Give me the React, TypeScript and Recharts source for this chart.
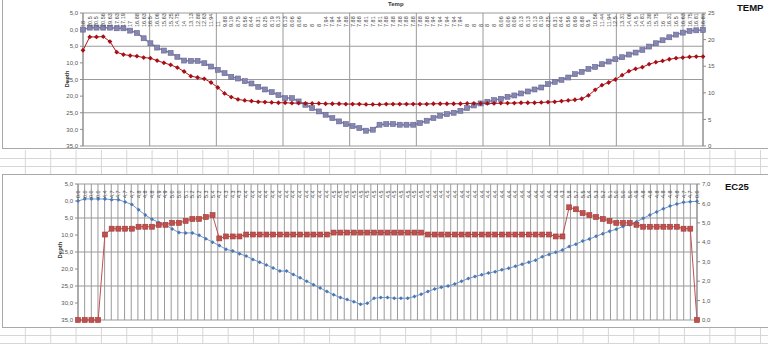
import React from 'react';
import { ComposedChart, Line, XAxis, YAxis, CartesianGrid } from 'recharts';

// depth (m) per sample, shared by both charts
const DEPTH = [
  0, -0.6, -0.6, -0.6, -0.6, -0.4, -0.4, 0.3, 1.0, 2.6,
  4.1, 5.4, 6.3, 7.0, 8.2, 9.3, 9.4, 9.4, 10.1, 11.1,
  12.1, 13.1, 14.2, 14.7, 15.5, 16.2, 17.2, 18.0, 18.8, 19.7,
  20.6, 20.6, 21.6, 22.6, 23.6, 24.6, 25.6, 26.6, 27.6, 28.4,
  29.0, 29.6, 30.4, 30.1, 28.6, 28.4, 28.4, 28.6, 28.6, 28.6,
  28.1, 27.4, 26.6, 25.9, 25.4, 25.0, 24.4, 23.6, 22.8, 22.2,
  21.7, 21.2, 20.8, 20.2, 19.8, 19.2, 18.6, 18.0, 17.4, 16.4,
  15.7, 15.1, 14.4, 13.4, 12.7, 11.8, 11.2, 10.4, 9.6, 8.9,
  8.3, 7.5, 6.9, 6.1, 5.1, 4.1, 3.2, 2.3, 1.5, 0.9,
  0.4, 0.2, 0.1,
];

const TEMP = [
  18, 20.5, 20.5, 20.56, 19.63, 17.63, 17.19, 17, 16.88, 16.63,
  16.5, 16.06, 15.63, 15.25, 14.75, 14, 13.13, 12.88, 12.63, 11.94,
  11, 9.88, 9.19, 8.75, 8.56, 8.44, 8.31, 8.25, 8.19, 8.13,
  8.13, 8.06, 8.06, 8, 8, 8, 7.94, 7.94, 7.94, 7.88,
  7.88, 7.88, 7.81, 7.81, 7.81, 7.88, 7.88, 7.88, 7.88, 7.88,
  7.88, 7.88, 7.94, 7.94, 7.94, 7.94, 7.94, 8, 8, 8,
  8, 8, 8.06, 8.06, 8.06, 8.13, 8.13, 8.13, 8.19, 8.25,
  8.31, 8.44, 8.56, 8.69, 8.88, 9.5, 10.56, 11.44, 11.94, 12.5,
  13.31, 14.06, 14.5, 14.81, 15.38, 15.75, 16, 16.31, 16.5, 16.63,
  16.75, 16.81, 16.81,
];

const EC = [
  0, 0, 0, 0, 4.4, 4.7, 4.7, 4.7, 4.7, 4.8,
  4.8, 4.8, 4.9, 4.9, 5.0, 5.0, 5.1, 5.2, 5.2, 5.3,
  5.4, 4.2, 4.3, 4.3, 4.3, 4.4, 4.4, 4.4, 4.4, 4.4,
  4.4, 4.4, 4.4, 4.4, 4.4, 4.4, 4.4, 4.4, 4.5, 4.5,
  4.5, 4.5, 4.5, 4.5, 4.5, 4.5, 4.5, 4.5, 4.5, 4.5,
  4.5, 4.5, 4.4, 4.4, 4.4, 4.4, 4.4, 4.4, 4.4, 4.4,
  4.4, 4.4, 4.4, 4.4, 4.4, 4.4, 4.4, 4.4, 4.4, 4.4,
  4.4, 4.3, 4.3, 5.8, 5.7, 5.5, 5.4, 5.3, 5.2, 5.1,
  5.0, 5.0, 5.0, 4.9, 4.8, 4.8, 4.8, 4.8, 4.8, 4.8,
  4.7, 4.7, 0.0,
];

const DEPTH_TICKS = [-5, 0, 5, 10, 15, 20, 25, 30, 35];
const TEMP_TICKS = [0, 5, 10, 15, 20, 25];
const EC_TICKS = [0, 1, 2, 3, 4, 5, 6, 7];

const TEMP_LABELS = TEMP.map((v) => String(v));
const EC_LABELS = EC.map((v) => v.toFixed(1));

const tempData = DEPTH.map((d, i) => ({ i, depth: d, temp: TEMP[i] }));
const ecData = DEPTH.map((d, i) => ({ i, depth: d, ec: EC[i] }));

const FONT = '"Liberation Sans", Arial, sans-serif';
const AXIS_COLOR = '#8c8c8c';
const TICK = { fontSize: 6, fill: '#555', fontFamily: FONT };

const fmtDepth = (v: number) => Math.abs(v).toFixed(1).replace('.', ',');
const fmtEc = (v: number) => v.toFixed(1).replace('.', ',');

// vertical grid at category boundaries
const boundaries = (step: number) => (props: any) => {
  const off = props.offset || {};
  const left = off.left ?? 0;
  const w = off.width ?? 0;
  const n = DEPTH.length;
  const out: number[] = [];
  for (let k = 0; k < n; k += step) out.push(left + (k * w) / n);
  out.push(left + w);
  return out;
};

const catTick = (labels: string[], baseY: number) => (p: any) => (
  <text
    transform={`translate(${p.x + 2},${baseY}) rotate(-90)`}
    fontSize={5.5}
    fill="#444"
    fontFamily={FONT}
    textAnchor="start"
  >
    {labels[Number(p.payload.value)]}
  </text>
);

const squareDot = (size: number, fill: string, stroke: string) => (p: any) =>
  p.cx == null ? null : (
    <rect
      key={p.index}
      x={p.cx - size / 2}
      y={p.cy - size / 2}
      width={size}
      height={size}
      fill={fill}
      stroke={stroke}
      strokeWidth={0.6}
    />
  );

const diamondDot = (r: number, fill: string) => (p: any) =>
  p.cx == null ? null : (
    <path
      key={p.index}
      d={`M${p.cx},${p.cy - r}L${p.cx + r},${p.cy}L${p.cx},${p.cy + r}L${p.cx - r},${p.cy}Z`}
      fill={fill}
    />
  );

const SheetGrid = () => {
  const cols = Array.from({ length: 31 }, (_, k) => 25.35 * (k + 1));
  const bands = [
    [150, 174],
    [327, 344],
  ];
  const rows = [158.5, 166.5, 335.5, 343.5];
  return (
    <svg width={768} height={344} style={{ position: 'absolute', left: 0, top: 0 }}>
      {bands.map(([a, b], j) =>
        cols.map((x) => (
          <line key={`${j}-${x}`} x1={x} x2={x} y1={a} y2={b} stroke="#d6d6d6" strokeWidth={1} />
        ))
      )}
      {rows.map((y) => (
        <line key={y} x1={0} x2={768} y1={y} y2={y} stroke="#d6d6d6" strokeWidth={1} />
      ))}
    </svg>
  );
};

const frame = (top: number, height: number): React.CSSProperties => ({
  position: 'absolute',
  left: 2,
  top,
  width: 780,
  height,
  border: '1.5px solid #a8a8a8',
  background: '#fff',
  boxSizing: 'border-box',
});

const sideLabel = (left: number, top: number): React.CSSProperties => ({
  position: 'absolute',
  left,
  top,
  fontSize: 6,
  fontWeight: 'bold',
  fontFamily: FONT,
  color: '#333',
  transform: 'rotate(-90deg)',
  transformOrigin: 'center',
});

export default function App() {
  return (
    <div
      style={{
        position: 'absolute',
        left: 0,
        top: 0,
        width: 768,
        height: 344,
        overflow: 'hidden',
        background: '#fff',
        fontFamily: FONT,
      }}
    >
      <SheetGrid />
      <div style={frame(-2, 151)} />
      <div style={frame(174, 154)} />

      <div style={{ position: 'absolute', top: 0 }}>
        <ComposedChart width={768} height={150} data={tempData} margin={{ top: 12, right: 35, bottom: 4, left: 53 }}>
          <CartesianGrid yAxisId="d" stroke="#9a9a9a" verticalCoordinatesGenerator={boundaries(10)} />
          <XAxis
            dataKey="i"
            type="category"
            orientation="top"
            height={1}
            interval={0}
            axisLine={false}
            tickLine={false}
            tick={catTick(TEMP_LABELS, 27)}
          />
          <YAxis
            yAxisId="d"
            orientation="left"
            reversed
            domain={[-5, 35]}
            ticks={DEPTH_TICKS}
            width={30}
            tick={TICK}
            tickSize={3}
            tickFormatter={fmtDepth}
            axisLine={{ stroke: AXIS_COLOR }}
            tickLine={{ stroke: AXIS_COLOR }}
          />
          <YAxis
            yAxisId="t"
            orientation="right"
            domain={[0, 25]}
            ticks={TEMP_TICKS}
            width={30}
            tick={TICK}
            tickSize={3}
            axisLine={{ stroke: AXIS_COLOR }}
            tickLine={{ stroke: AXIS_COLOR }}
          />
          <Line
            yAxisId="d"
            dataKey="depth"
            stroke="#7b7ba8"
            strokeWidth={1.5}
            dot={squareDot(5, '#8686b3', '#66668f')}
            isAnimationActive={false}
          />
          <Line
            yAxisId="t"
            dataKey="temp"
            stroke="#b3141b"
            strokeWidth={1}
            dot={diamondDot(2.4, '#a50f15')}
            isAnimationActive={false}
          />
        </ComposedChart>
      </div>

      <div style={{ position: 'absolute', top: 174 }}>
        <ComposedChart width={768} height={150} data={ecData} margin={{ top: 9, right: 41, bottom: 4, left: 48 }}>
          <CartesianGrid yAxisId="d" stroke="#9a9a9a" verticalCoordinatesGenerator={boundaries(1)} />
          <XAxis
            dataKey="i"
            type="category"
            orientation="top"
            height={1}
            interval={0}
            axisLine={false}
            tickLine={false}
            tick={catTick(EC_LABELS, 24)}
          />
          <YAxis
            yAxisId="d"
            orientation="left"
            reversed
            domain={[-5, 35]}
            ticks={DEPTH_TICKS}
            width={30}
            tick={TICK}
            tickSize={3}
            tickFormatter={fmtDepth}
            axisLine={{ stroke: AXIS_COLOR }}
            tickLine={{ stroke: AXIS_COLOR }}
          />
          <YAxis
            yAxisId="e"
            orientation="right"
            domain={[0, 7]}
            ticks={EC_TICKS}
            width={30}
            tick={TICK}
            tickSize={3}
            tickFormatter={fmtEc}
            axisLine={{ stroke: AXIS_COLOR }}
            tickLine={{ stroke: AXIS_COLOR }}
          />
          <Line
            yAxisId="d"
            dataKey="depth"
            stroke="#6f97cc"
            strokeWidth={1}
            dot={diamondDot(2, '#4a78b5')}
            isAnimationActive={false}
          />
          <Line
            yAxisId="e"
            dataKey="ec"
            stroke="#c0504d"
            strokeWidth={1}
            dot={squareDot(5, '#c0504d', '#9e3b38')}
            isAnimationActive={false}
          />
        </ComposedChart>
      </div>

      <div style={sideLabel(58, 76)}>Depth</div>
      <div style={sideLabel(51, 247)}>Depth</div>
      <div style={{ position: 'absolute', left: 388, top: 1, fontSize: 6, fontWeight: 'bold', color: '#333' }}>Temp</div>
      <div style={{ position: 'absolute', left: 737, top: 2, fontSize: 9.5, fontWeight: 'bold', color: '#111' }}>TEMP</div>
      <div style={{ position: 'absolute', left: 725, top: 181, fontSize: 9.5, fontWeight: 'bold', color: '#111' }}>EC25</div>
    </div>
  );
}
